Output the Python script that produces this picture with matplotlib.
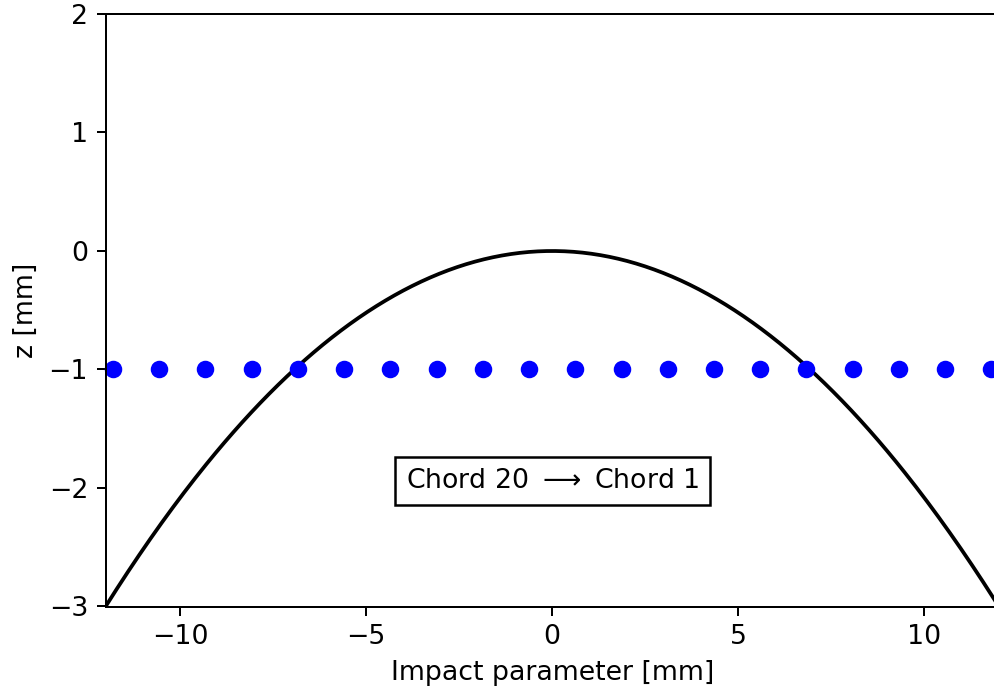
import numpy as np
import matplotlib
matplotlib.use("Agg")
import matplotlib.pyplot as plt

plt.rcParams["font.size"] = 10.7

# chord impact parameters [mm] and their height [mm]
chord_b = [-11.8, -10.558, -9.316, -8.074, -6.832, -5.589, -4.347, -3.105, -1.863, -0.621,
           0.621, 1.863, 3.105, 4.347, 5.589, 6.832, 8.074, 9.316, 10.558, 11.8]
chord_z = [-1.0] * 20

# surface profile z = -b^2 / (2R)
radius = 24.0
b = np.linspace(-12, 12, 400)
z = -b**2 / (2 * radius)

fig = plt.figure(figsize=(994 / 180, 692 / 180), dpi=180)
ax = fig.add_axes([105.6 / 994, 1 - 606.5 / 692, (998.8 - 105.6) / 994, (606.5 - 14) / 692])

ax.plot(b, z, "k-")
ax.plot(chord_b, chord_z, "bo", clip_on=False)

ax.text(0, -2, r"Chord 20 $\longrightarrow$ Chord 1", ha="center", va="baseline",
        bbox=dict(boxstyle="square,pad=0.4", facecolor="white", edgecolor="black"))

ax.set_xlim(-12, 12)
ax.set_ylim(-3, 2)
ax.set_xlabel("Impact parameter [mm]")
ax.set_ylabel("z [mm]")

fig.savefig("out.png", dpi=180)
